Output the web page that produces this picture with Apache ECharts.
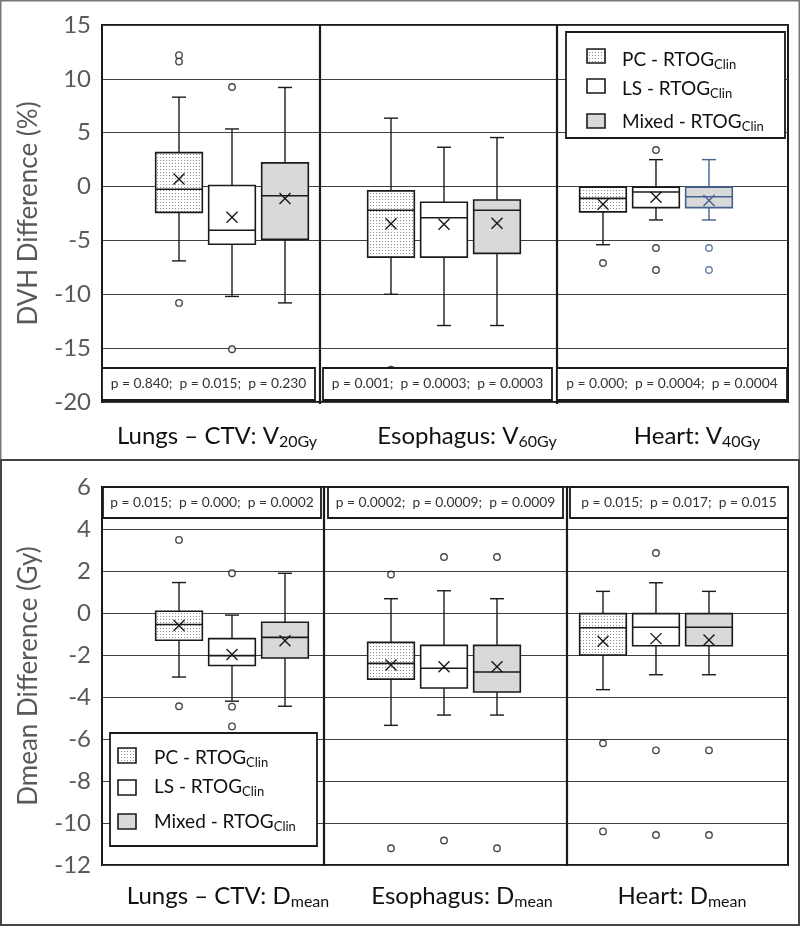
<!DOCTYPE html>
<html>
<head>
<meta charset="utf-8">
<script src="https://cdn.jsdelivr.net/npm/echarts@6/dist/echarts.min.js"></script>
<style>
  html, body { margin: 0; padding: 0; background: #fff; }
  #chart { width: 800px; height: 926px; }
</style>
</head>
<body>
<div id="chart"></div>
<script>
// ---------------- DATA ----------------
const categories = ['Lungs – CTV', 'Esophagus', 'Heart'];
const dvhMetrics = ['V', 'V', 'V'];
const dvhMetricSubs = ['20Gy', '60Gy', '40Gy'];
const dmeanMetric = 'D';
const dmeanMetricSub = 'mean';
const methods = ['PC', 'LS', 'Mixed'];
const refName = 'RTOG';
const refSub = 'Clin';

// [min, q1, median, q3, max] per category
const dvhPC    = [[-6.9, -2.4, -0.25, 3.15, 8.3], [-10.0, -6.55, -2.2, -0.4, 6.35], [-5.4, -2.35, -1.1, -0.05, -0.05]];
const dvhLS    = [[-10.2, -5.35, -4.05, 0.1, 5.35], [-12.9, -6.55, -2.9, -1.45, 3.65], [-3.1, -1.95, -0.5, -0.05, 2.5]];
const dvhMixed = [[-10.8, -4.9, -0.85, 2.2, 9.2], [-12.9, -6.2, -2.2, -1.25, 4.55], [-3.1, -1.95, -0.95, -0.05, 2.5]];
const dvhMeanPC = [0.7, -3.45, -1.65];
const dvhMeanLS = [-2.85, -3.5, -1.0];
const dvhMeanMixed = [-1.1, -3.4, -1.3];
const dvhOutPC = [[12.2, 11.6, -10.8], [-17.0], [-7.1]];
const dvhOutLS = [[9.25, -15.1], [], [3.4, -5.7, -7.75]];
const dvhOutMixed = [[], [], [-5.7, -7.75]];
const dvhPValues = [['0.840', '0.015', '0.230'], ['0.001', '0.0003', '0.0003'], ['0.000', '0.0004', '0.0004']];

const dmPC    = [[-3.05, -1.3, -0.55, 0.08, 1.45], [-5.35, -3.15, -2.4, -1.4, 0.68], [-3.65, -2.0, -0.7, -0.03, 1.03]];
const dmLS    = [[-4.2, -2.5, -2.03, -1.22, -0.1], [-4.86, -3.57, -2.63, -1.54, 1.06], [-2.94, -1.56, -0.68, -0.03, 1.44]];
const dmMixed = [[-4.44, -2.14, -1.16, -0.44, 1.89], [-4.86, -3.76, -2.81, -1.54, 0.68], [-2.94, -1.56, -0.68, -0.03, 1.03]];
const dmMeanPC = [-0.6, -2.48, -1.35];
const dmMeanLS = [-1.98, -2.56, -1.22];
const dmMeanMixed = [-1.32, -2.56, -1.29];
const dmOutPC = [[3.48, -4.44], [1.83, -11.2], [-6.2, -10.4]];
const dmOutLS = [[1.89, -4.46, -5.4], [2.67, -10.83], [2.86, -6.54, -10.57]];
const dmOutMixed = [[], [2.67, -11.2], [-6.54, -10.57]];
const dmPValues = [['0.015', '0.000', '0.0002'], ['0.0002', '0.0009', '0.0009'], ['0.015', '0.017', '0.015']];

const dvhAxis = { min: -20, max: 15, interval: 5, name: 'DVH Difference (%)' };
const dmAxis = { min: -12, max: 6, interval: 2, name: 'Dmean Difference (Gy)' };

// ---------------- STYLE / LAYOUT ----------------
const FONT = 'Lato';
const INK = '#1a1a1a';
const BLUE = '#45618e';
const GRAY_FILL = '#d9d9d9';

function dotPattern() {
  const c = document.createElement('canvas');
  c.width = 3; c.height = 3;
  const ctx = c.getContext('2d');
  ctx.fillStyle = '#ffffff'; ctx.fillRect(0, 0, 3, 3);
  ctx.fillStyle = '#8c8c8c'; ctx.fillRect(1, 1, 1, 1);
  return c;
}
const dotCanvas = dotPattern();
function fillFor(s) {
  if (s === 0) return { image: dotCanvas, repeat: 'repeat' };
  if (s === 1) return '#ffffff';
  return GRAY_FILL;
}

function buildBoxData(stats, means) {
  const out = [];
  for (let s = 0; s < 3; s++) {
    for (let g = 0; g < 3; g++) {
      const st = stats[s][g];
      out.push([4 * g + s, st[0], st[1], st[2], st[3], st[4], means[s][g], s, g]);
    }
  }
  return out;
}
function buildOutData(outs, blueHeartMixed) {
  const out = [];
  for (let s = 0; s < 3; s++) {
    for (let g = 0; g < 3; g++) {
      outs[s][g].forEach(v => {
        const blue = blueHeartMixed && s === 2 && g === 2;
        out.push({ value: [4 * g + s, v], itemStyle: { color: '#fff', borderColor: blue ? BLUE : INK, borderWidth: 1.4 } });
      });
    }
  }
  return out;
}

function boxRenderer(blueHeartMixed) {
  return function (params, api) {
    const slot = api.value(0);
    const mn = api.value(1), q1 = api.value(2), md = api.value(3), q3 = api.value(4), mx = api.value(5);
    const mean = api.value(6), s = api.value(7), g = api.value(8);
    const half = api.size([1, 0])[0] * 0.44;
    const cap = 7;
    const P = v => api.coord([slot, v]);
    const cx = P(md)[0];
    const yMin = P(mn)[1], yQ1 = P(q1)[1], yMd = P(md)[1], yQ3 = P(q3)[1], yMx = P(mx)[1], yMean = P(mean)[1];
    const stroke = (blueHeartMixed && s === 2 && g === 2) ? BLUE : INK;
    const ls = { stroke: stroke, lineWidth: 1.4 };
    const ch = [];
    if (mx > q3) {
      ch.push({ type: 'line', shape: { x1: cx, y1: yQ3, x2: cx, y2: yMx }, style: ls });
      ch.push({ type: 'line', shape: { x1: cx - cap, y1: yMx, x2: cx + cap, y2: yMx }, style: ls });
    }
    if (mn < q1) {
      ch.push({ type: 'line', shape: { x1: cx, y1: yQ1, x2: cx, y2: yMin }, style: ls });
      ch.push({ type: 'line', shape: { x1: cx - cap, y1: yMin, x2: cx + cap, y2: yMin }, style: ls });
    }
    ch.push({ type: 'rect', shape: { x: cx - half, y: yQ3, width: 2 * half, height: yQ1 - yQ3 },
      style: { fill: fillFor(s), stroke: stroke, lineWidth: 1.6 } });
    ch.push({ type: 'line', shape: { x1: cx - half, y1: yMd, x2: cx + half, y2: yMd }, style: { stroke: stroke, lineWidth: 1.6 } });
    const m = 5.5;
    ch.push({ type: 'line', shape: { x1: cx - m, y1: yMean - m, x2: cx + m, y2: yMean + m }, style: ls });
    ch.push({ type: 'line', shape: { x1: cx - m, y1: yMean + m, x2: cx + m, y2: yMean - m }, style: ls });
    return { type: 'group', children: ch };
  };
}

const GL = 102, GR = 12;
const XMIN = -1.453, XMAX = 11.491;
const TOP = { top: 25, bottom: 926 - 402 };
const BOT = { top: 487, bottom: 926 - 865 };

function yAxisCfg(idx, ax) {
  return {
    type: 'value', gridIndex: idx, min: ax.min, max: ax.max, interval: ax.interval,
    name: ax.name, nameLocation: 'middle', nameGap: 60, nameRotate: 90,
    nameTextStyle: { fontFamily: FONT, fontSize: 26, color: '#595959' },
    axisLine: { show: true, onZero: false, lineStyle: { color: INK, width: 2 } },
    axisTick: { show: false },
    axisLabel: { fontFamily: FONT, fontSize: 24, color: '#595959', margin: 11 },
    splitLine: { show: true, lineStyle: { color: '#404040', width: 1 } }
  };
}
function xAxisCfg(idx) {
  return { type: 'value', gridIndex: idx, min: XMIN, max: XMAX, show: false,
    axisLine: { show: false, onZero: false }, splitLine: { show: false } };
}

function richLabel(main, sub, size, subSize, color) {
  return {
    text: '{m|' + main + '}{s|' + sub + '}',
    rich: {
      m: { fontFamily: FONT, fontSize: size, fill: color, color: color },
      s: { fontFamily: FONT, fontSize: subSize, fill: color, color: color, padding: [Math.round(size * 0.45), 0, 0, 0] }
    }
  };
}

const graphics = [];
// panel frames
graphics.push({ type: 'rect', shape: { x: 0.75, y: 0.75, width: 798.5, height: 459 }, style: { fill: 'none', stroke: '#777', lineWidth: 1.5 }, z: 1 });
graphics.push({ type: 'rect', shape: { x: 1, y: 460, width: 798, height: 465 }, style: { fill: 'none', stroke: '#444', lineWidth: 2 }, z: 1 });

// dividers
[[320, 25, 404], [557, 25, 404], [324, 487, 866], [567, 487, 866]].forEach(d => {
  graphics.push({ type: 'line', shape: { x1: d[0], y1: d[1], x2: d[0], y2: d[2] }, style: { stroke: INK, lineWidth: 2.2 }, z: 20 });
});

// p-value boxes
function pText(arr) { return arr.map(v => 'p = ' + v).join(';  '); }
const topPBoxes = [[102, 315], [323, 552], [557, 787]];
const botPBoxes = [[103, 321], [328, 563], [570, 788]];
topPBoxes.forEach((b, i) => {
  graphics.push({ type: 'rect', shape: { x: b[0], y: 368, width: b[1] - b[0], height: 32 }, style: { fill: '#fff', stroke: INK, lineWidth: 1.8 }, z: 30 });
  graphics.push({ type: 'text', x: (b[0] + b[1]) / 2, y: 384, style: { text: pText(dvhPValues[i]), fontFamily: FONT, fontSize: 13.8, fill: '#333', align: 'center', verticalAlign: 'middle' }, z: 31 });
});
botPBoxes.forEach((b, i) => {
  graphics.push({ type: 'rect', shape: { x: b[0], y: 487, width: b[1] - b[0], height: 31 }, style: { fill: '#fff', stroke: INK, lineWidth: 1.8 }, z: 30 });
  graphics.push({ type: 'text', x: (b[0] + b[1]) / 2, y: 503, style: { text: pText(dmPValues[i]), fontFamily: FONT, fontSize: 13.8, fill: '#333', align: 'center', verticalAlign: 'middle' }, z: 31 });
});

// category labels
const topLabelX = [217, 467, 697];
const botLabelX = [228, 462, 682];
categories.forEach((c, i) => {
  const t = richLabel(c + ': ' + dvhMetrics[i], dvhMetricSubs[i], 24, 16, '#111');
  graphics.push({ type: 'text', x: topLabelX[i], y: 436, style: Object.assign({ align: 'center', verticalAlign: 'middle' }, t), z: 30 });
  const b = richLabel(c + ': ' + dmeanMetric, dmeanMetricSub, 24, 16, '#111');
  graphics.push({ type: 'text', x: botLabelX[i], y: 896, style: Object.assign({ align: 'center', verticalAlign: 'middle' }, b), z: 30 });
});

// legends
function legend(box, swX, swY, txtX, txtY, swW, swH) {
  graphics.push({ type: 'rect', shape: box, style: { fill: '#fff', stroke: INK, lineWidth: 1.8 }, z: 40 });
  methods.forEach((m, s) => {
    graphics.push({ type: 'rect', shape: { x: swX, y: swY[s], width: swW, height: swH }, style: { fill: fillFor(s), stroke: INK, lineWidth: 1.6 }, z: 41 });
    const t = richLabel(m + ' - ' + refName, refSub, 19, 13, '#111');
    graphics.push({ type: 'text', x: txtX, y: txtY[s], style: Object.assign({ align: 'left', verticalAlign: 'middle' }, t), z: 41 });
  });
}
legend({ x: 566, y: 32, width: 219, height: 106 }, 587, [49, 79, 114], 622, [60, 89, 122], 18, 14);
legend({ x: 110, y: 733, width: 207, height: 113 }, 118, [748, 780, 814], 154, [758, 787, 822], 18, 15);

const option = {
  animation: false,
  backgroundColor: '#fff',
  grid: [
    { left: GL, right: GR, top: TOP.top, bottom: TOP.bottom, show: true, borderColor: INK, borderWidth: 2, backgroundColor: 'transparent' },
    { left: GL, right: GR, top: BOT.top, bottom: BOT.bottom, show: true, borderColor: INK, borderWidth: 2, backgroundColor: 'transparent' }
  ],
  xAxis: [xAxisCfg(0), xAxisCfg(1)],
  yAxis: [yAxisCfg(0, dvhAxis), yAxisCfg(1, dmAxis)],
  series: [
    { type: 'custom', xAxisIndex: 0, yAxisIndex: 0, renderItem: boxRenderer(true),
      data: buildBoxData([dvhPC, dvhLS, dvhMixed], [dvhMeanPC, dvhMeanLS, dvhMeanMixed]), z: 5 },
    { type: 'scatter', xAxisIndex: 0, yAxisIndex: 0, symbol: 'circle', symbolSize: 6.5,
      data: buildOutData([dvhOutPC, dvhOutLS, dvhOutMixed], true), z: 6 },
    { type: 'custom', xAxisIndex: 1, yAxisIndex: 1, renderItem: boxRenderer(false),
      data: buildBoxData([dmPC, dmLS, dmMixed], [dmMeanPC, dmMeanLS, dmMeanMixed]), z: 5 },
    { type: 'scatter', xAxisIndex: 1, yAxisIndex: 1, symbol: 'circle', symbolSize: 6.5,
      data: buildOutData([dmOutPC, dmOutLS, dmOutMixed], false), z: 6 }
  ],
  graphic: graphics
};

const chart = echarts.init(document.getElementById('chart'), null, { renderer: 'canvas' });
chart.setOption(option);
</script>
</body>
</html>
